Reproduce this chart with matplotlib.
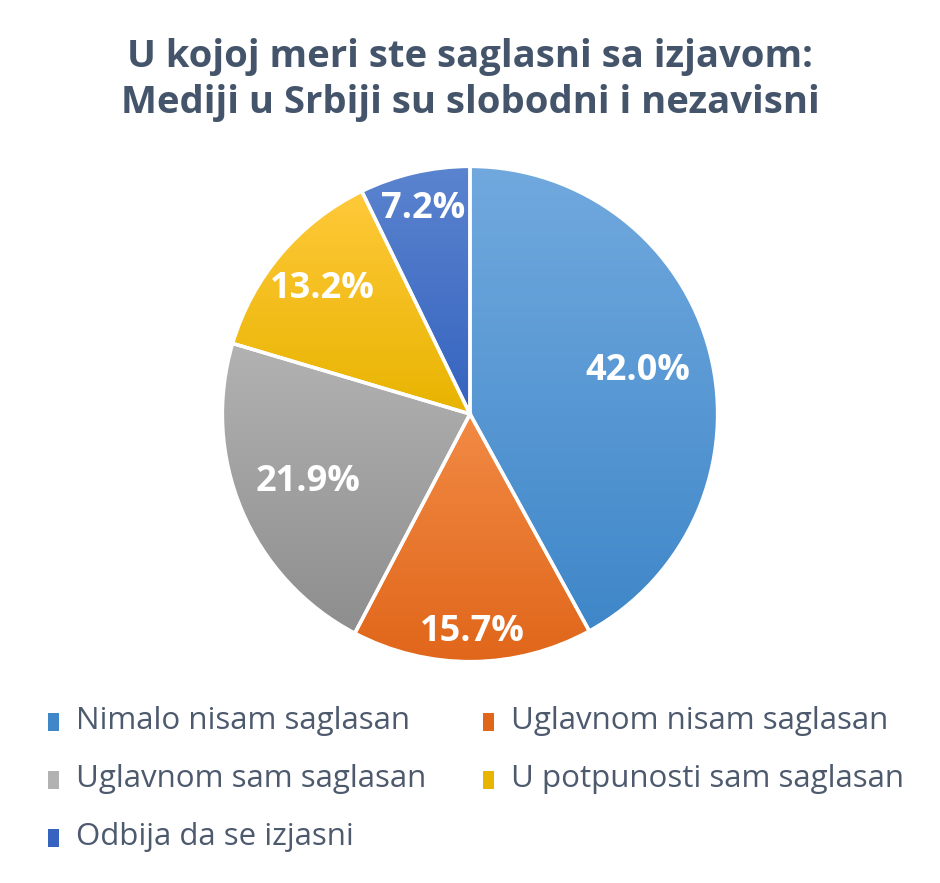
import numpy as np
import matplotlib.pyplot as plt
from matplotlib.colors import to_rgb
from matplotlib.patches import Rectangle

plt.rcParams['font.family'] = ['Open Sans', 'DejaVu Sans']

TITLE = "U kojoj meri ste saglasni sa izjavom:\nMediji u Srbiji su slobodni i nezavisni"
categories = ["Nimalo nisam saglasan", "Uglavnom nisam saglasan", "Uglavnom sam saglasan",
              "U potpunosti sam saglasan", "Odbija da se izjasni"]
values = [42.0, 15.7, 21.9, 13.2, 7.2]

# light (top) / dark (bottom) gradient colours per slice
light = ["#71a9de", "#f28a45", "#b2b2b2", "#ffc93a", "#5b84cf"]
dark = ["#3f87c9", "#e0661a", "#8e8e8e", "#e8b400", "#3563bf"]
label_dist = [0.70, 0.88, 0.71, 0.78, 0.85]

fig = plt.figure(figsize=(9.4, 8.83), dpi=100)
ax = fig.add_axes([(470 - 260) / 940, (883 - 414 - 260) / 883, 520 / 940, 520 / 883])
ax.axis('off')

wedges, _ = ax.pie(values, startangle=90, counterclock=False, radius=1,
                   wedgeprops=dict(edgecolor='white', linewidth=2.5, facecolor='none'))

for i, w in enumerate(wedges):
    # vertical gradient clipped to the slice
    t = np.radians(np.linspace(w.theta1, w.theta2, 200))
    ys = np.concatenate([np.sin(t), [0]])
    y0, y1 = ys.min(), ys.max()
    c0, c1 = np.array(to_rgb(dark[i])), np.array(to_rgb(light[i]))
    g = np.linspace(0, 1, 256)[:, None]
    img = (c0[None, :] * (1 - g) + c1[None, :] * g)[:, None, :]
    im = ax.imshow(img, extent=(-1.05, 1.05, y0, y1), origin='lower',
                   aspect='auto', zorder=1, interpolation='bilinear')
    im.set_clip_path(w)
    w.set_zorder(2)

    mid = np.radians((w.theta1 + w.theta2) / 2)
    d = label_dist[i]
    ax.text(d * np.cos(mid), d * np.sin(mid), f"{values[i]:.1f}%", color='white',
            fontsize=26, fontweight='bold', ha='center', va='center', zorder=3)

ax.set_xlim(-1.05, 1.05)
ax.set_ylim(-1.05, 1.05)

fig.text(0.5, 1 - 80 / 883, TITLE, ha='center', va='center', fontsize=27.5,
         fontweight='bold', color='#44546a', linespacing=1.25)

# legend, row-major like the original
pos = [(48, 722), (483, 722), (48, 780), (483, 780), (48, 838)]
for i, (x, y) in enumerate(pos):
    fig.patches.append(Rectangle((x / 940, 1 - (y + 9) / 883), 11 / 940, 18 / 883,
                                 transform=fig.transFigure,
                                 facecolor=light[i] if i == 2 else dark[i], edgecolor='none'))
    fig.text((x + 28) / 940, 1 - (y - 1) / 883, categories[i], ha='left', va='center',
             fontsize=22.5, color='#4d5a6e')

fig.savefig('out.png', dpi=100)
